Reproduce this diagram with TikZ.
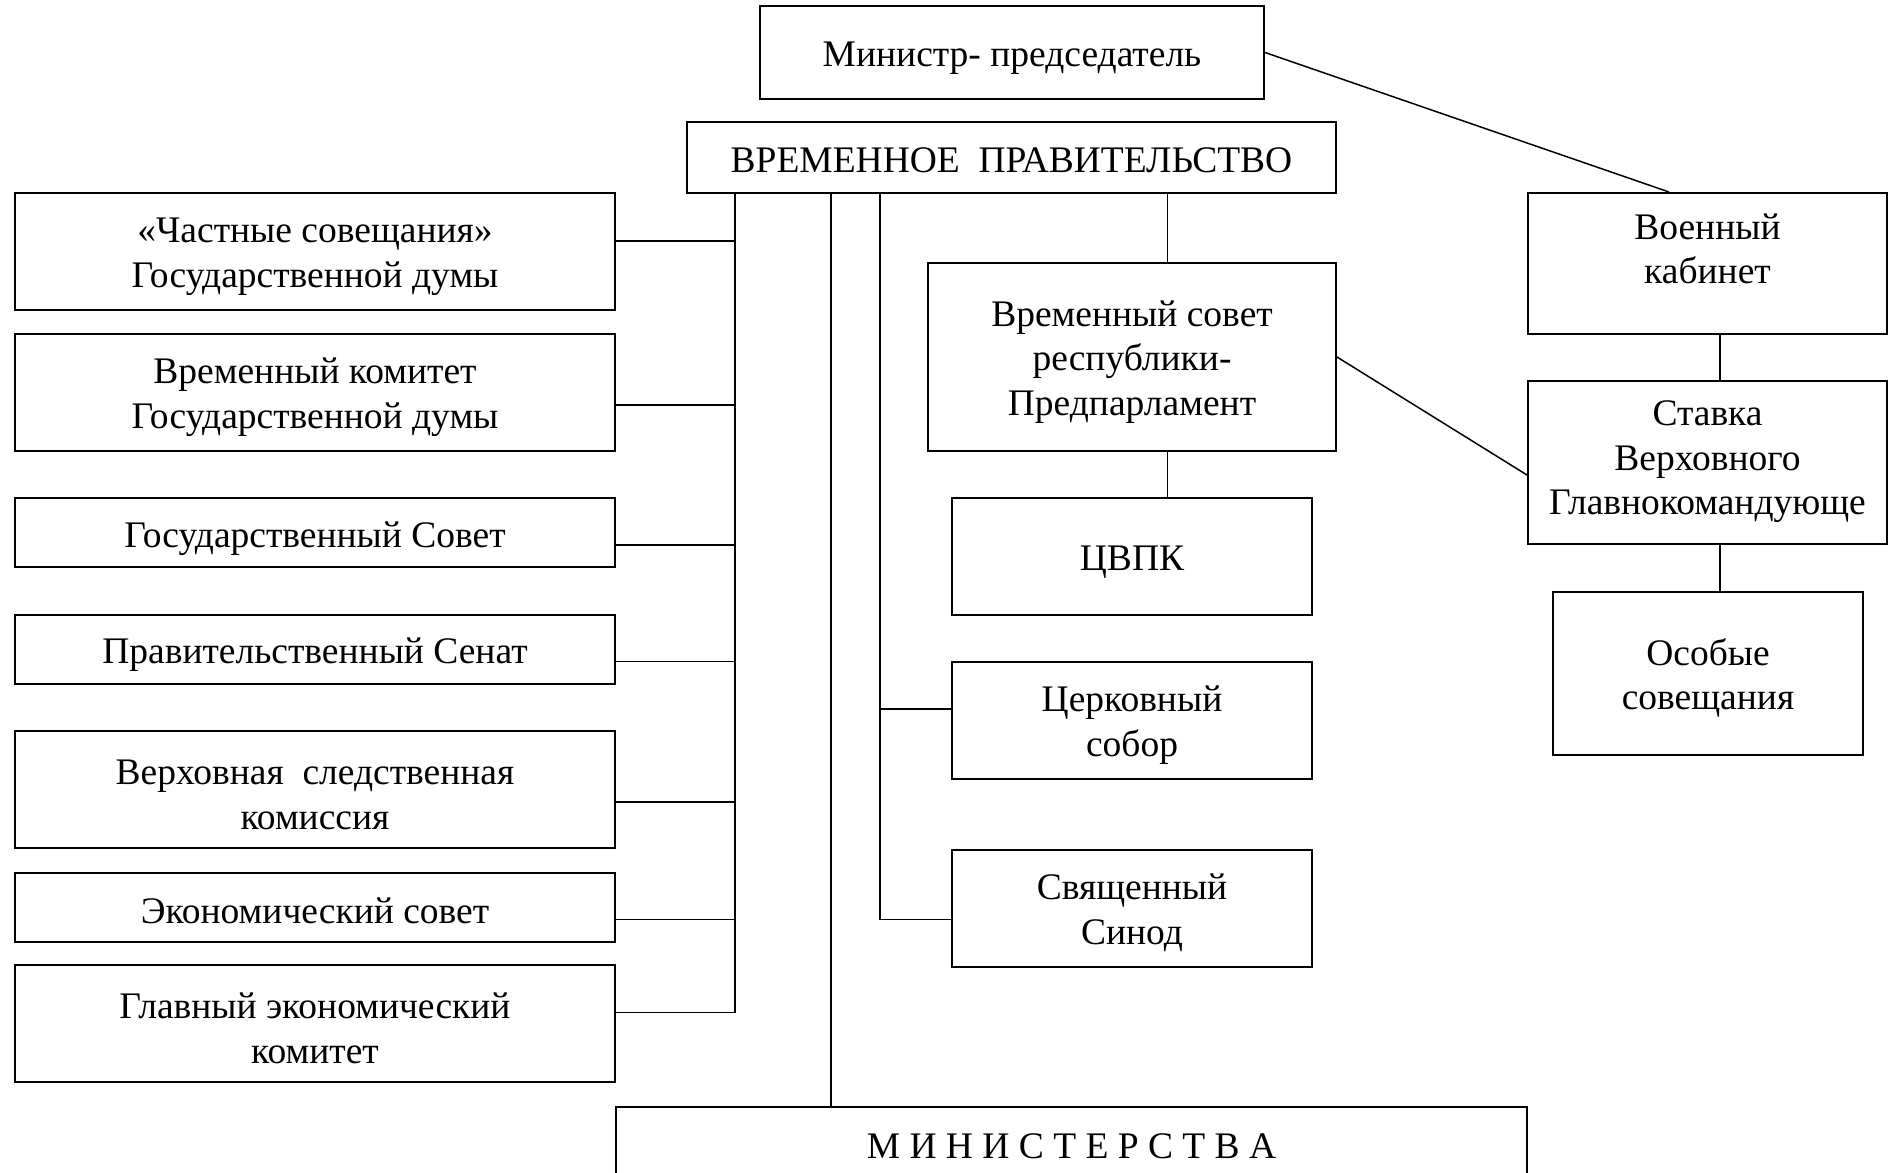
\documentclass[tikz,border=0pt]{standalone}
\usepackage{fontspec}
\setmainfont{Liberation Serif}
\usetikzlibrary{calc}
\newcommand{\tstrut}{\rule{0pt}{35.5pt}}
\begin{document}
\begin{tikzpicture}[x=1pt,y=-1pt,
  box/.style={draw, line width=2pt, align=center, inner sep=0pt, font=\fontsize{37.5}{44.5}\selectfont},
  txt/.style={align=center, inner sep=0pt, font=\fontsize{37.5}{44.5}\selectfont},
  conn/.style={line width=1.9pt},
  diag/.style={line width=1.5pt}]
\useasboundingbox[fill=white] (0,0) rectangle (1899,1173);

% top
\node[box, minimum width=504pt, minimum height=93pt] (minister) at (1012,52.5) {\tstrut Министр- председатель};
\node[box, minimum width=649pt, minimum height=71pt] (gov) at (1011.5,157.5) {\rule{0pt}{31pt}ВРЕМЕННОЕ\ \ ПРАВИТЕЛЬСТВО};

% left column
\node[box, minimum width=600pt, minimum height=117pt] (b1) at (315,251.5) {\tstrut«Частные совещания»\\Государственной думы};
\node[box, minimum width=600pt, minimum height=117pt] (b2) at (315,392.5) {\tstrut Временный комитет\\Государственной думы};
\node[box, minimum width=600pt, minimum height=69pt] (b3) at (315,532.5) {\rule{0pt}{38pt}Государственный Совет};
\node[box, minimum width=600pt, minimum height=69pt] (b4) at (315,649.5) {\tstrut Правительственный Сенат};
\node[box, minimum width=600pt, minimum height=117pt] (b5) at (315,789.5) {\tstrut Верховная\ \ следственная\\комиссия};
\node[box, minimum width=600pt, minimum height=69pt] (b6) at (315,907.5) {\rule{0pt}{33pt}Экономический совет};
\node[box, minimum width=600pt, minimum height=117pt] (b7) at (315,1023.5) {\tstrut Главный экономический\\комитет};

% middle column
\node[box, minimum width=408pt, minimum height=188pt] (sovet) at (1132,357) {\tstrut Временный совет\\республики-\\Предпарламент};
\node[box, minimum width=360pt, minimum height=117pt] (cvpk) at (1132,556.5) {\tstrut ЦВПК};
\node[box, minimum width=360pt, minimum height=117pt] (church) at (1132,720) {\tstrut Церковный\\собор};
\node[box, minimum width=360pt, minimum height=117pt] (synod) at (1132,908) {\tstrut Священный\\Синод};

% ministries
\node[box, minimum width=911pt, minimum height=75pt] (mini) at (1071.5,1144.5) {\rule{0pt}{28.5pt}М И Н И С Т Е Р С Т В А};

% right column
\node[draw, line width=2pt, inner sep=0pt, minimum width=359pt, minimum height=141pt] (voen) at (1707.5,263.5) {};
\node[txt] (voentxt) at (1707.5,249) {Военный\\кабинет};
\node[draw, line width=2pt, inner sep=0pt, minimum width=359pt, minimum height=163pt] (stavka) at (1707.5,462.5) {};
\node[txt] (stavkatxt) at (1707.5,462) {Ставка\\Верховного\\Главнокомандующе};
\node[box, minimum width=310pt, minimum height=163pt] (osob) at (1708,673.5) {\tstrut Особые\\совещания};

% bus coordinates
\coordinate (busL) at ($(gov.south)+(-276.5,0)$);
\coordinate (busM) at ($(gov.south)+(-180.5,0)$);
\coordinate (busC) at ($(gov.south)+(-131.5,0)$);
\coordinate (c1) at ($(b1.east)+(0,-10.5)$);
\coordinate (c2) at ($(b2.east)+(0,12.5)$);
\coordinate (c3) at ($(b3.east)+(0,12.5)$);
\coordinate (c4) at ($(b4.east)+(0,12)$);
\coordinate (c5) at ($(b5.east)+(0,12.5)$);
\coordinate (c6) at ($(b6.east)+(0,12)$);
\coordinate (c7) at ($(b7.east)+(0,-11)$);
\coordinate (cC) at ($(church.west)+(0,-11)$);
\coordinate (cS) at ($(synod.west)+(0,11.5)$);
\coordinate (sv) at ($(sovet.north)+(35.5,0)$);
\coordinate (cv) at ($(cvpk.north)+(35.5,0)$);
\coordinate (vs) at ($(voen.south)+(12.5,0)$);
\coordinate (ss) at ($(stavka.south)+(12.5,0)$);

% left bus
\draw[conn] (busL) -- (busL |- c7);
\foreach \c in {c1,c2,c3,c4,c5,c6,c7} \draw[conn] (\c) -- (\c -| busL);

% ministries line
\draw[conn] (busM) -- (busM |- mini.north);

% church bus
\draw[conn] (busC) -- (busC |- cS) -- (cS);
\draw[conn] (busC |- cC) -- (cC);

% sovet
\draw[conn] (sv |- gov.south) -- (sv);
\draw[conn] (sv |- sovet.south) -- (cv);

% right column
\draw[conn] (vs) -- (vs |- stavka.north);
\draw[conn] (ss) -- (ss |- osob.north);

% diagonals
\draw[diag] (minister.east) -- ($(voen.north)+(-38.5,0)$);
\draw[diag] (sovet.east) -- ($(stavka.west)+(0,12.5)$);
\end{tikzpicture}
\end{document}
